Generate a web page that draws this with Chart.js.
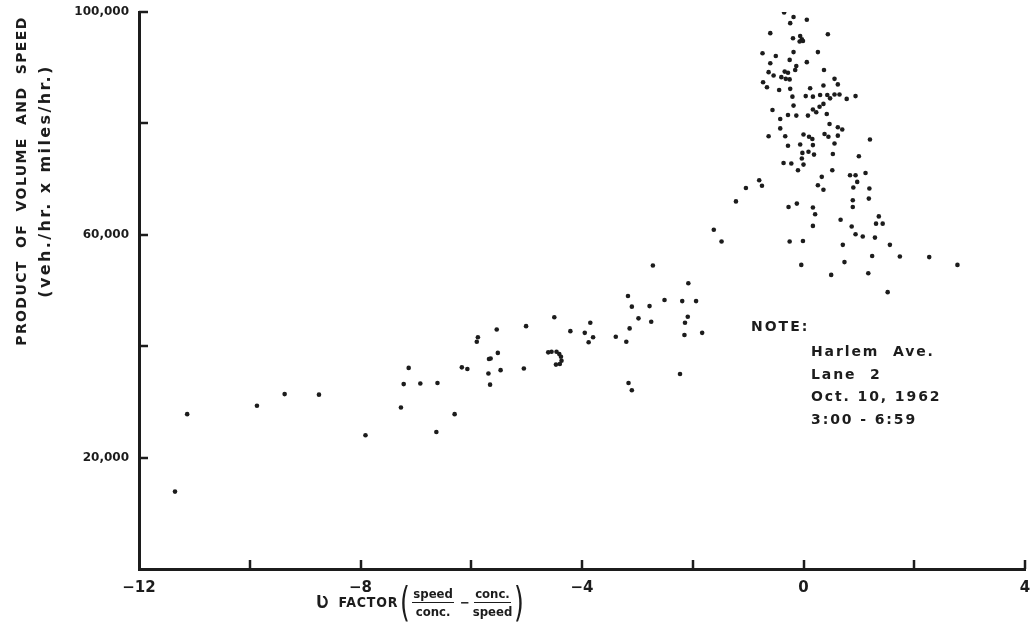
<!DOCTYPE html>
<html>
<head>
<meta charset="utf-8">
<script src="https://cdn.jsdelivr.net/npm/chart.js@4.4.1/dist/chart.umd.min.js"></script>
<style>
  html, body { margin: 0; padding: 0; background: #fff; }
  #wrap { position: relative; width: 1033px; height: 642px; overflow: hidden; }
  #chart { position: absolute; left: 0; top: 0; }
  .lbl { position: absolute; font-family: 'DejaVu Sans', sans-serif; font-weight: bold; color: #1c1c1c; white-space: nowrap; }
  #ytitle { left: -136px; top: 156px; width: 340px; height: 50px; transform: rotate(-90deg); text-align: center; font-size: 14px; line-height: 24px; }
  #ytitle .l1 { letter-spacing: 1.4px; word-spacing: 6px; }
  #ytitle .l2 { letter-spacing: 2.4px; font-size: 16px; }
  #xtitle { left: 316px; top: 582px; display: flex; align-items: center; font-family: 'DejaVu Sans Condensed', 'DejaVu Sans', sans-serif; font-size: 13px; }
  #xtitle .paren { font-size: 40px; font-weight: normal; line-height: 40px; transform: scaleX(0.7); }
  #xtitle .frac { display: inline-flex; flex-direction: column; align-items: center; line-height: 17px; }
  #xtitle .frac span:first-child { border-bottom: 1.5px solid #1c1c1c; padding: 0 1px; }
  #note { left: 751px; top: 318px; font-size: 14px; letter-spacing: 2px; }
  #noteLines { left: 811px; top: 340px; font-size: 14px; letter-spacing: 1.9px; line-height: 22.5px; }
</style>
</head>
<body>
<div id="wrap">
  <canvas id="chart" width="1033" height="642"></canvas>
  <div class="lbl" id="ytitle"><div class="l1">PRODUCT OF VOLUME AND SPEED</div><div class="l2">(veh./hr. x miles/hr.)</div></div>
  <div class="lbl" id="xtitle">
    <span style="font-size:17px">Ʋ</span><span style="margin-left:10px;letter-spacing:0.8px;font-size:14px">FACTOR</span>
    <span class="paren">(</span>
    <span class="frac"><span>speed</span><span>conc.</span></span>
    <span style="margin:0 3px 0 6px">−</span>
    <span class="frac"><span>conc.</span><span>speed</span></span>
    <span class="paren">)</span>
  </div>
  <div class="lbl" id="note">NOTE:</div>
  <div class="lbl" id="noteLines"></div>
</div>
<script>
// values
const uFactor = [
  -11.35, -11.13, -9.87, -9.37, -8.75, -7.91, -7.27, -7.22, -7.13, -6.92,
  -6.61, -6.63, -6.30, -6.17, -6.07, -5.90, -5.88, -5.69, -5.68, -5.65,
  -5.66, -5.54, -5.52, -5.47, -5.05, -5.01, -4.50, -4.21, -3.95, -3.85,
  -3.80, -3.88, -4.61, -4.55, -4.46, -4.41, -4.38, -4.37, -4.40, -4.47,
  -3.39, -3.20, -3.17, -3.10, -3.14, -2.98, -2.78, -2.75, -2.72, -2.51,
  -2.19, -2.08, -1.94, -2.09, -2.14, -2.15, -1.83, -1.62, -1.48, -1.22,
  -1.04, -0.75, -0.80, -3.16, -3.10, -2.23,
  -0.35, -0.18, -0.24, 0.06, -0.60, -0.19, -0.06, -0.03, -0.01, -0.07,
  0.44, -0.74, -0.50, -0.18, 0.26, -0.60, -0.25, -0.13, -0.15, 0.06,
  -0.63, -0.54, -0.40, -0.34, -0.28, -0.32, -0.25, 0.37, -0.73, -0.66,
  -0.44, -0.24, 0.56, 0.62, 0.12, 0.36, -0.20, 0.04, 0.17, 0.30,
  0.43, 0.48, 0.56, 0.65, 0.78, 0.94, -0.18, -0.56, 0.17, 0.23,
  0.29, 0.36, -0.28, -0.13, 0.08, 0.42, -0.42, -0.42, 0.47, 0.62,
  0.70, -0.63, -0.33, 0.00, 0.10, 0.16, 0.38, 0.45, 0.62, 1.20,
  -0.28, -0.06, 0.17, 0.56, -0.02, 0.09, 0.19, -0.03, 0.53, 1.00,
  -0.36, -0.22, 0.00, -0.10, 0.52, 0.84, 0.94, 1.12, 0.97, 0.90,
  1.19, 0.33, 0.26, 0.36, 0.89, 0.89, 1.18, -0.27, -0.12, 0.17,
  0.21, 0.17, 0.67, 0.87, 0.94, 1.07, 1.29, 1.36, 1.31, 1.43,
  1.56, 0.71, 1.24, 1.74, 0.74, -0.25, -0.01, -0.04, 0.50, 1.17,
  1.52, 2.27, 2.78
];
const productVS = [
  13900, 27800, 29300, 31400, 31300, 24000, 29000, 33200, 36100, 33300,
  33400, 24600, 27800, 36200, 35900, 40800, 41600, 35100, 37700, 37800,
  33100, 43000, 38800, 35700, 36000, 43600, 45200, 42700, 42400, 44200,
  41600, 40700, 38900, 39000, 39000, 38600, 38100, 37400, 36800, 36700,
  41700, 40800, 49000, 47100, 43200, 45000, 47200, 44400, 54500, 48300,
  48100, 51300, 48100, 45300, 44200, 42000, 42400, 60900, 58800, 66000,
  68400, 68800, 69800, 33400, 32100, 35000,
  99900, 99100, 98000, 98600, 96200, 95300, 95700, 95100, 94800, 94700,
  96000, 92600, 92100, 92800, 92800, 90800, 91400, 90300, 89600, 91000,
  89200, 88600, 88300, 89300, 89100, 88000, 87900, 89600, 87400, 86500,
  86000, 86200, 88000, 87000, 86300, 86800, 84800, 84900, 84800, 85100,
  85100, 84500, 85200, 85200, 84400, 84900, 83200, 82400, 82500, 82000,
  83000, 83500, 81500, 81400, 81400, 81700, 80800, 79100, 79900, 79300,
  78900, 77700, 77700, 78000, 77600, 77200, 78100, 77600, 77800, 77100,
  76000, 76200, 76100, 76400, 74700, 74900, 74400, 73700, 74500, 74100,
  72900, 72800, 72600, 71600, 71600, 70700, 70700, 71100, 69500, 68500,
  68300, 70400, 68900, 68100, 66200, 65000, 66500, 65000, 65600, 64900,
  63700, 61600, 62700, 61500, 60100, 59700, 59500, 63300, 62000, 62000,
  58200, 58200, 56200, 56100, 55100, 58800, 58900, 54600, 52800, 53100,
  49700, 56000, 54600
];
const xLabeled = [-12, -8, -4, 0, 4];
const yLabeled = [20000, 60000, 100000];
const noteLines = ['Harlem  Ave.', 'Lane  2', 'Oct. 10, 1962', '3:00 - 6:59'];

document.getElementById('noteLines').innerHTML = noteLines.map(t => '<div style="white-space:pre">' + t + '</div>').join('');

const ink = '#1c1c1c';

// tick marks in the reference point into the plot, so draw them ourselves
const inwardTicks = {
  id: 'inwardTicks',
  afterDraw(chart) {
    const ctx = chart.ctx;
    const xs = chart.scales.x, ys = chart.scales.y;
    const area = chart.chartArea;
    ctx.save();
    ctx.strokeStyle = ink;
    ctx.lineWidth = 2.5;
    xs.ticks.forEach(t => {
      if (t.value === xs.min) return;
      const px = Math.round(xs.getPixelForValue(t.value));
      ctx.beginPath();
      ctx.moveTo(px, area.bottom);
      ctx.lineTo(px, area.bottom - 9);
      ctx.stroke();
    });
    ys.ticks.forEach(t => {
      if (t.value === ys.min) return;
      const py = Math.round(ys.getPixelForValue(t.value));
      ctx.beginPath();
      ctx.moveTo(area.left, py);
      ctx.lineTo(area.left + 9, py);
      ctx.stroke();
    });
    ctx.restore();
  }
};

const points = uFactor.map((x, i) => ({ x: x, y: productVS[i] }));

new Chart(document.getElementById('chart').getContext('2d'), {
  type: 'scatter',
  data: {
    datasets: [{
      data: points,
      backgroundColor: ink,
      borderWidth: 0,
      pointRadius: 2.3,
      pointHoverRadius: 2.3
    }]
  },
  options: {
    responsive: false,
    animation: false,
    devicePixelRatio: 1,
    layout: { padding: { top: 12, right: 8, left: 0, bottom: 0 } },
    plugins: { legend: { display: false }, tooltip: { enabled: false } },
    scales: {
      x: {
        type: 'linear',
        min: -12,
        max: 4,
        grid: { display: false },
        border: { display: true, color: ink, width: 3 },
        afterFit: s => { s.height = 73; },
        ticks: {
          stepSize: 2,
          padding: 2,
          color: ink,
          font: { family: 'DejaVu Sans', weight: 'bold', size: 15 },
          callback: v => xLabeled.includes(v) ? (v < 0 ? '\u2212' + Math.abs(v) : String(v)) : ''
        }
      },
      y: {
        type: 'linear',
        min: 0,
        max: 100000,
        grid: { display: false },
        border: { display: true, color: ink, width: 3 },
        afterFit: s => { s.width = 139; },
        ticks: {
          stepSize: 20000,
          padding: 2,
          color: ink,
          font: { family: 'DejaVu Sans', weight: 'bold', size: 12 },
          callback: v => yLabeled.includes(v) ? v.toLocaleString('en-US') : ''
        }
      }
    }
  },
  plugins: [inwardTicks]
});
</script>
</body>
</html>
